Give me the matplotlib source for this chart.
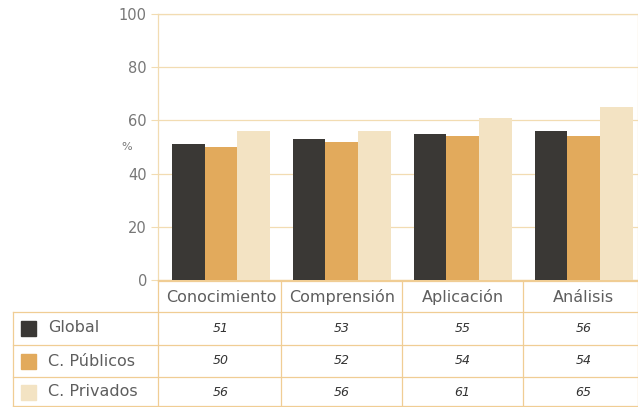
import matplotlib
matplotlib.use("Agg")
import matplotlib.pyplot as plt
import matplotlib.transforms as mtransforms
import numpy as np

categories = ["Conocimiento", "Comprensión", "Aplicación", "Análisis"]
series_names = ["Global", "C. Públicos", "C. Privados"]
global_vals = [51, 53, 55, 56]
publicos_vals = [50, 52, 54, 54]
privados_vals = [56, 56, 61, 65]
yticks = [0, 20, 40, 60, 80, 100]

colors = ["#3a3835", "#e2aa5c", "#f3e3c3"]
grid_c = "#f2dcb2"
line_c = "#f0cd94"
text_c = "#5e5e5e"

W, H = 638, 407
fig = plt.figure(figsize=(W / 100, H / 100), dpi=100)
fig.patch.set_facecolor("white")

ax_left, ax_right = 158 / W, 638 / W
ax_bottom, ax_top = 1 - 280 / H, 1 - 14 / H
ax = fig.add_axes([ax_left, ax_bottom, ax_right - ax_left, ax_top - ax_bottom])

x = np.arange(len(categories))
bw = 0.27
all_vals = [global_vals, publicos_vals, privados_vals]
for i, vals in enumerate(all_vals):
    ax.bar(x + (i - 1) * bw, vals, width=bw, color=colors[i], zorder=3)

ax.set_xlim(-0.52, 3.45)
ax.set_ylim(0, 100)
ax.set_yticks(yticks)
ax.set_yticklabels([str(t) for t in yticks], color="#777777", fontsize=10.5)
ax.set_xticks([])
ax.tick_params(axis="y", length=5, color=grid_c, pad=3, width=0.8)
ax.grid(axis="y", color=grid_c, linewidth=0.9, zorder=0)
for s in ["left", "right", "top"]:
    ax.spines[s].set_color(grid_c)
    ax.spines[s].set_linewidth(0.9)
ax.spines["bottom"].set_color(line_c)
ax.spines["bottom"].set_linewidth(0.9)
ax.text(-0.065, 0.5, "%", transform=ax.transAxes, ha="center", va="center",
        fontsize=8, color="#777777")

# Table: x in data coords of main axes, y in figure fraction
tr = mtransforms.blended_transform_factory(ax.transData, fig.transFigure)

def fy(py):
    return 1 - py / H

row_lines = [281, 312, 345, 377, 406]
col_bounds = [-0.52] + [c + 0.5 for c in x[:-1]] + [3.45]

fig.add_artist(plt.Line2D([ax_left, 1], [fy(281), fy(281)], transform=fig.transFigure,
                          color=line_c, lw=0.9))
for py in row_lines[1:]:
    fig.add_artist(plt.Line2D([13 / W, 1], [fy(py), fy(py)], transform=fig.transFigure,
                              color=line_c, lw=0.9))
for cb in col_bounds:
    fig.add_artist(plt.Line2D([cb, cb], [fy(281), fy(407)], transform=tr,
                              color=line_c, lw=0.9))
fig.add_artist(plt.Line2D([13 / W, 13 / W], [fy(312), fy(407)], transform=fig.transFigure,
                          color=line_c, lw=0.9))

for i, c in enumerate(categories):
    fig.text(x[i], fy(297), c, transform=tr, ha="center", va="center",
             fontsize=11.5, color=text_c)

row_centers = [328, 361, 392]
for r, (name, vals) in enumerate(zip(series_names, all_vals)):
    yc = fy(row_centers[r])
    fig.add_artist(plt.Rectangle((21 / W, yc - 7.5 / H), 15 / W, 15 / H,
                                 transform=fig.transFigure, color=colors[r]))
    fig.text(48 / W, yc, name, ha="left", va="center", fontsize=11.5, color=text_c)
    for i, v in enumerate(vals):
        fig.text(x[i], yc, str(v), transform=tr, ha="center", va="center",
                 fontsize=9, color="#333333", style="italic")

fig.savefig("out.png", dpi=100, facecolor="white")
